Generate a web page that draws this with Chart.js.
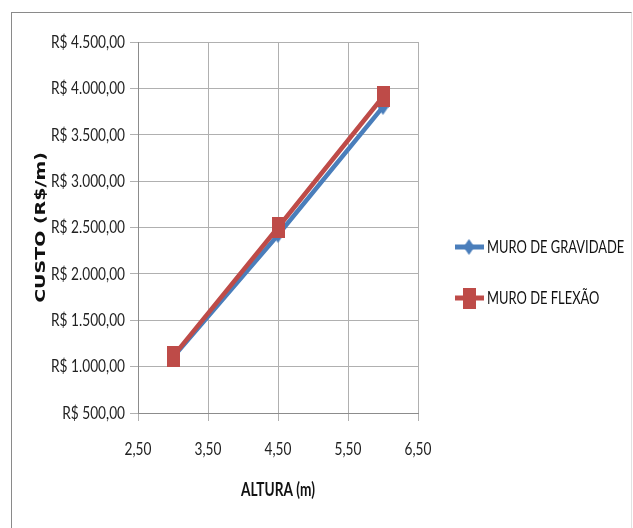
<!DOCTYPE html>
<html>
<head>
<meta charset="utf-8">
<script src="https://cdn.jsdelivr.net/npm/chart.js@4"></script>
<style>
  html, body { margin: 0; padding: 0; background: #fff; }
  #wrap { position: relative; width: 633px; height: 528px; overflow: hidden; }
  #frame { position: absolute; left: 11px; top: 12px; width: 619px; height: 600px;
           border: 1px solid #8a8a8a; border-right-color: #e2e2e2; }
  canvas { position: absolute; left: 0; top: 0; }
</style>
</head>
<body>
<div id="wrap">
  <div id="frame"></div>
  <canvas id="c" width="633" height="528"></canvas>
</div>
<script>
(function(){

    "use strict"

    // data
    const alturas = [3, 4.5, 6];
    const custoGravidade = [1100, 2420, 3800];
    const custoFlexao = [1110, 2500, 3910];
    const nomes = ["MURO DE GRAVIDADE", "MURO DE FLEXÃO"];

    const fonte = "Lato, 'Liberation Sans', sans-serif";
    const azul = "#4a7ebb";
    const vermelho = "#be4b48";
    const aperto = 0.76; // the original picture is squeezed sideways

    function pts(ys) {
        return alturas.map((x, i) => ({ x: x, y: ys[i] }));
    }

    // R$ 4.500,00 style
    function reais(v) {
        const s = Number(v).toFixed(2).split(".");
        const inteiro = s[0].replace(/\B(?=(\d{3})+(?!\d))/g, ".");
        return "R$ " + inteiro + "," + s[1];
    }

    // markers are squeezed too, so make them as small canvases
    function marcador(forma, w, h, cor) {
        const c = document.createElement("canvas");
        c.width = w; c.height = h;
        const g = c.getContext("2d");
        g.fillStyle = cor;
        g.beginPath();
        if (forma == "losango") {
            g.moveTo(w / 2, 0); g.lineTo(w, h / 2); g.lineTo(w / 2, h); g.lineTo(0, h / 2);
        } else {
            g.rect(0, 0, w, h);
        }
        g.closePath();
        g.fill();
        return c;
    }
    const losango = marcador("losango", 11, 16, azul);
    const quadrado = marcador("rect", 13, 21, vermelho);

    // squeeze every text sideways (on screen) around its anchor point
    const apertarPlugin = {
        id: "apertar",
        beforeDraw(chart) {
            const ctx = chart.ctx;
            if (ctx._apertado) return;
            const fill = ctx.fillText;
            ctx.fillText = function(t, x, y, w) {
                const m = this.getTransform();
                const p = m.transformPoint(new DOMPoint(x, y));
                this.save();
                this.setTransform(new DOMMatrix().translate(p.x, p.y).scale(aperto, 1).translate(-p.x, -p.y).multiply(m));
                if (w === undefined) fill.call(this, t, x, y);
                else fill.call(this, t, x, y, w);
                this.restore();
            };
            ctx._apertado = true;
        }
    };

    // legend on the right, drawn by hand so it sits like the original
    const legendaPlugin = {
        id: "legenda",
        afterDraw(chart) {
            const ctx = chart.ctx;
            const ys = [247, 298];
            chart.data.datasets.forEach((ds, i) => {
                const y = ys[i];
                ctx.save();
                ctx.strokeStyle = ds.borderColor;
                ctx.lineWidth = 5;
                ctx.beginPath();
                ctx.moveTo(455, y);
                ctx.lineTo(484, y);
                ctx.stroke();
                Chart.helpers.drawPoint(ctx, {
                    pointStyle: ds.pointStyle,
                    radius: 8,
                    rotation: 0,
                    borderWidth: 0
                }, 469, y);
                ctx.fillStyle = "#111";
                ctx.font = "17px " + fonte;
                ctx.textBaseline = "middle";
                ctx.fillText(ds.label, 487, y + 1);
                ctx.restore();
            });
        }
    };

    new Chart(document.getElementById("c"), {
        type: "scatter",
        data: {
            datasets: [{
                label: nomes[0],
                data: pts(custoGravidade),
                showLine: true,
                borderColor: azul,
                borderWidth: 4.5,
                pointStyle: losango,
                pointRadius: 8,
                order: 1
            }, {
                label: nomes[1],
                data: pts(custoFlexao),
                showLine: true,
                borderColor: vermelho,
                borderWidth: 4.5,
                pointStyle: quadrado,
                pointRadius: 10,
                order: 0
            }]
        },
        options: {
            responsive: false,
            animation: false,
            layout: { padding: { left: 0, right: 215, top: 42, bottom: 0 } },
            plugins: {
                legend: { display: false },
                tooltip: { enabled: false }
            },
            scales: {
                x: {
                    type: "linear",
                    min: 2.5,
                    max: 6.5,
                    afterFit(scale) { scale.height = 115; },
                    ticks: {
                        stepSize: 1,
                        padding: 17,
                        color: "#222",
                        font: { family: fonte, size: 18 },
                        callback: v => Number(v).toFixed(2).replace(".", ",")
                    },
                    grid: { color: "#b0b0b0", tickLength: 8, lineWidth: 1 },
                    border: { color: "#8c8c8c" },
                    title: {
                        display: true,
                        text: "ALTURA (m)",
                        color: "#111",
                        font: { family: fonte, size: 18, weight: "bold" },
                        padding: { top: 0, bottom: 27 }
                    }
                },
                y: {
                    min: 500,
                    max: 4500,
                    afterFit(scale) { scale.width = 138; },
                    ticks: {
                        stepSize: 500,
                        padding: 5,
                        color: "#222",
                        font: { family: fonte, size: 18 },
                        callback: v => reais(v)
                    },
                    grid: { color: "#b0b0b0", tickLength: 8, lineWidth: 1 },
                    border: { color: "#8c8c8c" },
                    title: {
                        display: true,
                        text: "CUSTO (R$/m)",
                        color: "#111",
                        font: { family: "'DejaVu Sans', sans-serif", size: 19, weight: "bold" },
                        padding: { top: 30, bottom: 0 }
                    }
                }
            }
        },
        plugins: [apertarPlugin, legendaPlugin]
    });

}());
</script>
</body>
</html>
